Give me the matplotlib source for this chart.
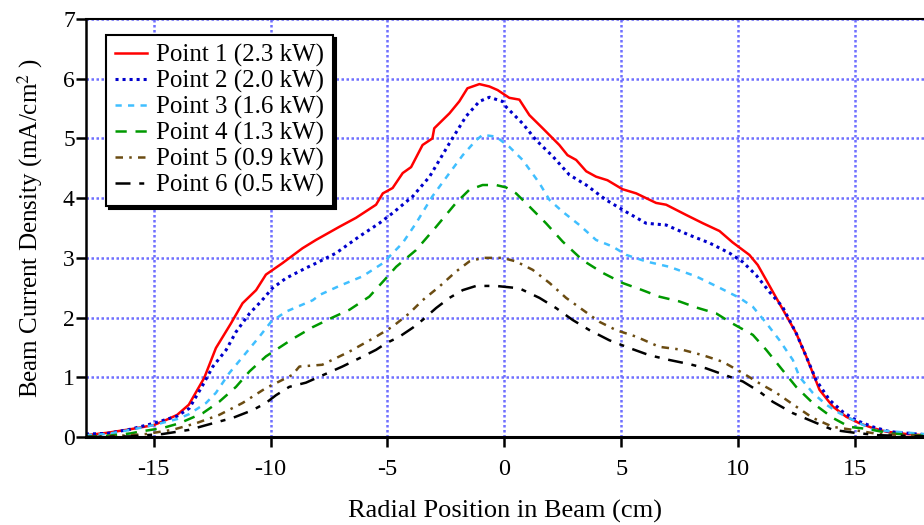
import numpy as np
import matplotlib
matplotlib.use('Agg')
from matplotlib import pyplot as plt

plt.rcParams['font.family'] = ['Liberation Serif', 'DejaVu Serif']
plt.rcParams['mathtext.fontset'] = 'stix'
plt.rcParams['axes.unicode_minus'] = False

# Point 1 (2.3 kW)
x1 = [-17.9, -17, -16, -15, -14.5, -14, -13.5, -12.84, -12.34, -11.7, -11.2, -10.62, -10.2, -9.5,
      -8.64, -8.06, -7.06, -6.35, -5.49, -5.2, -4.78, -4.35, -3.99, -3.5, -3.08, -3.0, -2.35,
      -1.93, -1.58, -1.07, -0.64, -0.29, 0.21, 0.64, 1.07, 1.64, 2.35, 2.7, 3.07, 3.5, 3.92,
      4.41, 5.05, 5.64, 6.49, 6.92, 7.77, 8.49, 9.2, 9.76, 10.48, 10.84, 11.2, 11.63, 12.05,
      12.48, 12.91, 13.34, 13.48, 14.05, 14.62, 15.19, 15.76, 16.33, 17.19, 17.95]
y1 = [0.03, 0.07, 0.13, 0.2, 0.28, 0.37, 0.54, 0.99, 1.49, 1.9, 2.24, 2.46, 2.72, 2.91,
      3.16, 3.3, 3.52, 3.67, 3.89, 4.08, 4.17, 4.42, 4.52, 4.89, 5.0, 5.17, 5.42,
      5.62, 5.84, 5.91, 5.87, 5.81, 5.68, 5.65, 5.39, 5.17, 4.89, 4.72, 4.64, 4.45, 4.36,
      4.3, 4.15, 4.08, 3.92, 3.89, 3.72, 3.58, 3.45, 3.26, 3.05, 2.88, 2.63, 2.33, 2.04,
      1.74, 1.35, 0.93, 0.79, 0.51, 0.34, 0.23, 0.15, 0.09, 0.05, 0.03]

# Point 2 (2.0 kW)
x2 = [-17.9, -17, -16, -15, -14, -13.48, -12.9, -12.47, -11.9, -11.48, -10.9, -10.41, -9.93,
      -9.34, -8.49, -8.06, -7.2, -6.2, -5.35, -4.78, -3.92, -3.2, -2.35, -1.64, -1.07, -0.64,
      -0.08, 0.07, 0.78, 1.36, 2.07, 2.78, 3.5, 4.35, 5.21, 6.06, 6.92, 7.92, 8.77, 9.63,
      10.2, 10.77, 11.34, 11.9, 12.48, 12.91, 13.34, 13.91, 14.48, 15.05, 15.76, 16.48, 17.95]
y2 = [0.05, 0.06, 0.13, 0.23, 0.35, 0.48, 0.87, 1.18, 1.46, 1.76, 2.07, 2.27, 2.49,
      2.66, 2.83, 2.91, 3.08, 3.36, 3.58, 3.75, 4.03, 4.36, 4.92, 5.37, 5.62, 5.69,
      5.62, 5.53, 5.25, 4.97, 4.7, 4.39, 4.22, 3.97, 3.77, 3.58, 3.55, 3.38, 3.25, 3.08,
      2.93, 2.71, 2.43, 2.18, 1.74, 1.35, 0.95, 0.62, 0.42, 0.28, 0.17, 0.09, 0.04]

# Point 3 (1.6 kW)
x3 = [-17.9, -17, -16, -15, -14, -13.5, -12.76, -12.34, -11.77, -11.05, -10.48, -9.98, -9.34,
      -8.2, -7.9, -7.06, -6.07, -5.2, -4.35, -3.78, -3.08, -2.35, -1.78, -1.21, -0.93, -0.36,
      0.21, 0.78, 1.5, 1.93, 2.5, 3.21, 3.92, 4.63, 5.21, 6.06, 7.06, 8.2, 9.2, 10.06,
      10.63, 11.2, 11.77, 12.34, 12.62, 13.19, 13.77, 14.33, 15.05, 15.76, 17.95]
y3 = [0.03, 0.05, 0.12, 0.2, 0.3, 0.38, 0.57, 0.74, 1.07, 1.41, 1.68, 1.93, 2.1,
      2.29, 2.38, 2.53, 2.69, 2.91, 3.25, 3.58, 4.03, 4.42, 4.72, 4.97, 5.06, 5.03,
      4.86, 4.64, 4.25, 3.97, 3.77, 3.55, 3.3, 3.19, 3.05, 2.94, 2.85, 2.69, 2.5, 2.33,
      2.18, 1.91, 1.62, 1.29, 1.01, 0.74, 0.54, 0.4, 0.26, 0.12, 0.05]

# Point 4 (1.3 kW)
x4 = [-17.9, -17, -16, -15.6, -14.62, -13.9, -12.9, -12.2, -11.48, -10.9, -10.2, -9.77, -9.07,
      -8.2, -7.36, -6.63, -5.78, -5.13, -4.63, -3.78, -2.92, -2.07, -1.5, -0.93, -0.36, 0.07,
      0.5, 1.07, 1.78, 2.5, 3.35, 4.2, 5.05, 5.9, 6.63, 7.49, 8.2, 9.06, 9.76, 10.63,
      11.2, 11.9, 12.48, 13.19, 14.05, 14.76, 15.62, 16.5, 17.95]
y4 = [0.0, 0.02, 0.06, 0.09, 0.15, 0.23, 0.4, 0.59, 0.84, 1.1, 1.35, 1.46, 1.64,
      1.84, 2.0, 2.13, 2.35, 2.63, 2.85, 3.13, 3.52, 3.92, 4.14, 4.22, 4.22, 4.18,
      4.08, 3.86, 3.58, 3.27, 2.96, 2.75, 2.58, 2.46, 2.35, 2.27, 2.17, 2.07, 1.9, 1.71,
      1.46, 1.12, 0.84, 0.57, 0.32, 0.17, 0.13, 0.06, 0.02]

# Point 5 (0.9 kW)
x5 = [-17.9, -16.5, -16, -15.33, -14.2, -13.19, -12.2, -11.2, -10.2, -9.63, -9.07, -8.77,
      -7.79, -6.63, -5.49, -4.78, -4.07, -3.5, -2.78, -2.07, -1.5, -0.93, -0.08, 0.5, 1.21,
      1.93, 2.64, 3.35, 4.06, 4.78, 5.64, 6.63, 7.62, 8.49, 9.34, 10.2, 10.91, 11.63, 12.48,
      13.19, 14.05, 14.9, 16, 17.95]
y5 = [0.0, 0.02, 0.03, 0.05, 0.12, 0.23, 0.37, 0.57, 0.82, 0.93, 1.04, 1.18,
      1.21, 1.43, 1.68, 1.85, 2.07, 2.29, 2.52, 2.77, 2.94, 3.0, 3.0, 2.94, 2.8,
      2.58, 2.33, 2.13, 1.93, 1.79, 1.68, 1.51, 1.46, 1.37, 1.26, 1.07, 0.9, 0.74, 0.51,
      0.32, 0.17, 0.12, 0.05, 0.02]

# Point 6 (0.5 kW)
x6 = [-17.9, -16, -15, -14.62, -13.48, -12.47, -11.62, -10.77, -10.2, -9.77, -9.2, -8.49,
      -6.93, -6.2, -5.49, -5.06, -4.49, -3.92, -3.5, -2.92, -2.35, -1.78, -1.21, -0.36, 0.64,
      1.5, 2.21, 2.92, 3.64, 4.49, 5.35, 6.2, 7.06, 7.92, 8.63, 9.2, 10.2, 10.91, 11.48,
      12.34, 13.19, 14.05, 15, 16, 17.95]
y6 = [0.0, 0.01, 0.04, 0.05, 0.12, 0.23, 0.32, 0.45, 0.57, 0.7, 0.84, 0.91,
      1.18, 1.32, 1.46, 1.57, 1.68, 1.83, 1.96, 2.16, 2.33, 2.46, 2.53, 2.53, 2.49,
      2.33, 2.16, 1.96, 1.79, 1.62, 1.49, 1.37, 1.29, 1.22, 1.15, 1.07, 0.93, 0.76, 0.59,
      0.4, 0.26, 0.12, 0.07, 0.03, 0.01]

labels = ['Point 1 (2.3 kW)', 'Point 2 (2.0 kW)', 'Point 3 (1.6 kW)',
          'Point 4 (1.3 kW)', 'Point 5 (0.9 kW)', 'Point 6 (0.5 kW)']
colors = ['#ff0000', '#0000cc', '#40bfff', '#009900', '#6b4c12', '#000000']
styles = ['-', (0, (1, 1.3)), (0, (2.5, 2.5)), (0, (4.5, 3.5)),
          (0, (3, 2.5, 1, 2.5)), (0, (6, 3.5, 2, 3.5))]

fig = plt.figure(figsize=(9.24, 5.25), dpi=100)
ax = fig.add_axes([0.093, 0.1676, 0.907, 0.7962])

xs = [x1, x2, x3, x4, x5, x6]
ys = [y1, y2, y3, y4, y5, y6]
for i in range(6):
    ax.plot(xs[i], ys[i], color=colors[i], linestyle=styles[i], lw=2.2 if i == 1 else 1.8,
            label=labels[i])

ax.set_xlim(-17.9, 17.95)
ax.set_ylim(0, 7)
ax.set_xticks([-15, -10, -5, 0, 5, 10, 15])
ax.set_yticks(range(8))
ax.grid(True, color='#6f6fff', linestyle=(0, (1, 1)), lw=1.8)
ax.set_axisbelow(True)
ax.spines['right'].set_visible(False)
ax.spines['left'].set_linewidth(1.8)
ax.spines['top'].set_linewidth(1.5)
ax.spines['bottom'].set_linewidth(2.2)
ax.tick_params(axis='both', direction='out', length=7, width=1.8)
ax.tick_params(axis='x', pad=9, labelsize=17.5)
ax.tick_params(axis='y', pad=1, labelsize=17)

ax.set_xlabel('Radial Position in Beam (cm)', fontsize=19, labelpad=14)
ax.set_ylabel('Beam Current Density (mA/cm$^{2}$ )', fontsize=18, labelpad=13)

leg = ax.legend(loc='upper left', bbox_to_anchor=(0.024, 0.962), borderaxespad=0,
                fontsize=18, frameon=True, fancybox=False, edgecolor='black',
                handlelength=1.3, handletextpad=0.35, labelspacing=0.12, borderpad=0.35,
                shadow={'color': 'black', 'alpha': 1.0})
leg.get_frame().set_linewidth(1.5)

plt.savefig('out.png', dpi=100)
